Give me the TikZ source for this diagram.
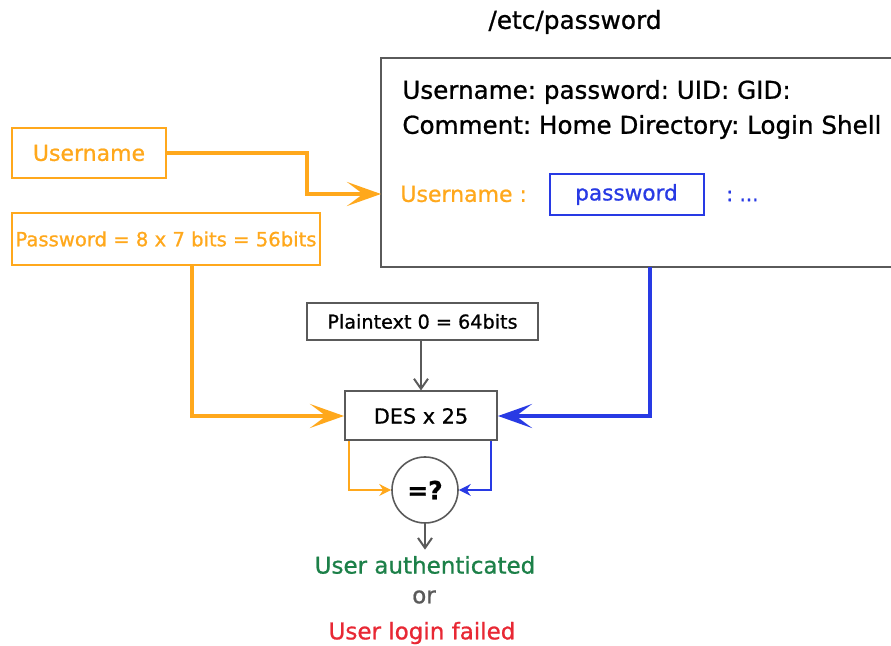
\documentclass[tikz,border=0pt]{standalone}
\usepackage{fontspec}
\setmainfont{DejaVu Sans}[FakeBold=0.9]
\usetikzlibrary{positioning, arrows.meta, calc}
\definecolor{passorange}{RGB}{255, 168, 28}
\definecolor{hashblue}{RGB}{40, 58, 228}
\definecolor{okgreen}{RGB}{28, 128, 72}
\definecolor{failred}{RGB}{232, 40, 52}
\definecolor{framegray}{RGB}{90, 90, 90}
\tikzset{
    % Node Styles
    block/.style={
        rectangle, draw=framegray, line width=1pt, inner sep=0pt,
        text centered, font=\fontsize{10.5}{12}\selectfont
    },
    userbox/.style={block, draw=passorange, text=passorange},
    hashbox/.style={block, draw=hashblue, text=hashblue},
    label/.style={inner sep=0pt, font=\fontsize{12.3}{14}\selectfont},
    % Arrow Styles
    orange_arrow/.style={-{Stealth[length=17pt, width=12pt, inset=8pt]}, line width=2pt, color=passorange},
    blue_arrow/.style={-{Stealth[length=17pt, width=12pt, inset=8pt]}, line width=2pt, color=hashblue},
    thin_arrow/.style={-{Stealth[length=6pt, width=6pt, inset=2pt]}, line width=0.6pt},
    gray_arrow/.style={-{Straight Barb[length=5pt, width=7pt]}, line width=1pt, color=framegray}
}

\begin{document}
\frenchspacing
\begin{tikzpicture}[x=0.5pt, y=-0.5pt]
    \clip (0,0) rectangle (891,646);

    % --- /etc/password entry ---
    \node [label, font=\fontsize{12.4}{14}\selectfont] (title) at (575,22) {/etc/password};
    \draw [draw=framegray, line width=1pt] (381,58) rectangle (900,267);
    \coordinate (filein) at (381,194);
    \coordinate (fileout) at (650,267);
    \node [label, anchor=west] (line1) at (402,92) {Username: password: UID: GID:};
    \node [label, anchor=west] (line2) at (402,127) {Comment: Home Directory: Login Shell};
    \node [label, anchor=west, text=passorange, font=\fontsize{11}{13}\selectfont] (fuser) at (400,194) {Username :};
    \node [hashbox, minimum width=77pt, minimum height=20.5pt, font=\fontsize{10.8}{12}\selectfont] (fpass) at (626.5,194.5) {password};
    \node [label, anchor=west, text=hashblue, font=\fontsize{10}{12}\selectfont] (frest) at (726,196) {: ...};

    % --- user input ---
    \node [userbox, minimum width=77pt, minimum height=25pt, font=\fontsize{11}{13}\selectfont] (user) at (89,153) {Username};
    \node [userbox, minimum width=154pt, minimum height=26pt, font=\fontsize{9.8}{11}\selectfont] (pass) at (166,239) {Password = 8 x 7 bits = 56bits};

    % --- DES chain ---
    \node [block, minimum width=115.5pt, minimum height=18.5pt, font=\fontsize{9.6}{11}\selectfont] (plain) at (422.5,321.5) {Plaintext 0 = 64bits};
    \node [block, minimum width=76pt, minimum height=24.5pt, font=\fontsize{10.4}{13}\selectfont] (des) at (421,416) {DES x 25};
    \node [circle, draw=framegray, line width=0.8pt, minimum size=33pt, inner sep=0pt,
           font=\bfseries\fontsize{12.5}{14}\selectfont] (cmp) at (425,490) {=?};

    % --- result ---
    \node [label, text=okgreen, font=\fontsize{11.5}{13}\selectfont] (ok) at (425,565) {User authenticated};
    \node [label, text=framegray, font=\fontsize{11.5}{13}\selectfont] (or) at (424,597) {or};
    \node [label, text=failred, font=\fontsize{11.5}{13}\selectfont] (fail) at (422,633) {User login failed};

    % Flow Arrows
    \draw [orange_arrow] (user.east) -- (307,153) |- (filein);
    \draw [orange_arrow] (pass.south -| 192,0) |- (des.west);
    \draw [blue_arrow] (fileout) |- (des.east);
    \draw [gray_arrow] (plain.south -| des.north) -- (des.north);

    % Comparison inputs
    \draw [thin_arrow, color=passorange] (des.south west) ++(5,0) |- (cmp.west);
    \draw [thin_arrow, color=hashblue] (des.south east) ++(-7,0) |- (cmp.east);
    \draw [gray_arrow] (cmp.south) -- ($(ok.north)+(0,-6)$);

\end{tikzpicture}
\end{document}
